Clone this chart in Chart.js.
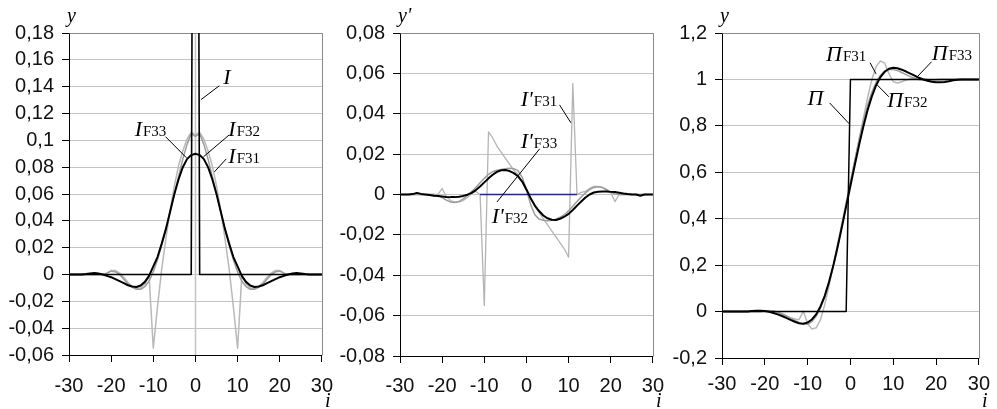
<!DOCTYPE html>
<html><head><meta charset="utf-8">
<script src="https://cdn.jsdelivr.net/npm/chart.js@4.4.1/dist/chart.umd.min.js"></script>
<style>
html,body{margin:0;padding:0;background:#fff;}
#wrap{position:relative;width:997px;height:409px;overflow:hidden;background:#fff;}
canvas{position:absolute;top:0;}
</style></head><body>
<div id="wrap">
<canvas id="c1" width="345" height="409" style="left:0px"></canvas>
<canvas id="c2" width="345" height="409" style="left:330px"></canvas>
<canvas id="c3" width="342" height="409" style="left:655px"></canvas>
</div>
<script>
// ---------- data ----------
const iValues = [-30,-29,-28,-27,-26,-25,-24,-23,-22,-21,-20,-19,-18,-17,-16,-15,-14,-13,-12,-11,-10,-9,-8,-7,-6,-5,-4,-3,-2,-1,0,1,2,3,4,5,6,7,8,9,10,11,12,13,14,15,16,17,18,19,20,21,22,23,24,25,26,27,28,29,30];

// panel 1: impulse and filtered impulses
const seriesI = [0,0,0,0,0,0,0,0,0,0,0,0,0,0,0,0,0,0,0,0,0,0,0,0,0,0,0,0,0,0,1,0,0,0,0,0,0,0,0,0,0,0,0,0,0,0,0,0,0,0,0,0,0,0,0,0,0,0,0,0,0];
const seriesIF33 = [0,0,0,0,0.0003,0.0008,0.0012,0.0008,0,-0.001,-0.002,-0.0035,-0.005,-0.0065,-0.008,-0.009,-0.0093,-0.0082,-0.0055,-0.001,0.006,0.013,0.023,0.034,0.047,0.060,0.071,0.080,0.086,0.089,0.090,0.089,0.086,0.080,0.071,0.060,0.047,0.034,0.023,0.013,0.006,-0.001,-0.0055,-0.0082,-0.0093,-0.009,-0.008,-0.0065,-0.005,-0.0035,-0.002,-0.001,0,0.0008,0.0012,0.0008,0.0003,0,0,0,0];
const seriesIF32 = [0,0,0,0,0,0,0,0,0,0.001,0.0025,0.002,0,-0.0035,-0.007,-0.0095,-0.011,-0.011,-0.009,-0.005,0.002,0.011,0.022,0.034,0.047,0.060,0.073,0.086,0.097,0.105,0.103,0.105,0.097,0.086,0.073,0.060,0.047,0.034,0.022,0.011,0.002,-0.005,-0.009,-0.011,-0.011,-0.0095,-0.007,-0.0035,0,0.002,0.0025,0.001,0,0,0,0,0,0,0,0,0];
const seriesIF31 = [0,0,0,0,0,0,0,0,0,0.001,0.003,0.003,0.001,-0.002,-0.006,-0.009,-0.0105,-0.010,-0.007,-0.001,-0.055,-0.024,0.004,0.027,0.048,0.066,0.081,0.092,0.101,0.106,0.104,0.106,0.101,0.092,0.081,0.066,0.048,0.027,0.004,-0.024,-0.055,-0.001,-0.007,-0.010,-0.0105,-0.009,-0.006,-0.002,0.001,0.003,0.003,0.001,0,0,0,0,0,0,0,0,0];

// panel 2: derivatives
const seriesDF33 = [0,0,0,0.0002,0.0008,0.0003,0,-0.0003,-0.0006,-0.0008,-0.001,-0.0012,-0.0013,-0.0013,-0.0011,-0.0007,-0.0001,0.0008,0.0022,0.004,0.006,0.008,0.0098,0.0112,0.012,0.0121,0.0116,0.0106,0.009,0.0064,0.0025,-0.0018,-0.0055,-0.0082,-0.0104,-0.0118,-0.0125,-0.0126,-0.012,-0.011,-0.0096,-0.0077,-0.0055,-0.0035,-0.0015,0,0.001,0.0014,0.0015,0.0015,0.0013,0.0012,0.0009,0.0005,0.0002,0,0,-0.0006,0,0,0];
const seriesDF32 = [0,0,0,0,0,0,0,0,0,-0.0005,-0.0015,-0.0028,-0.0037,-0.004,-0.0035,-0.0022,-0.0005,0.0015,0.0035,0.0058,0.008,0.010,0.0113,0.012,0.0124,0.0127,0.013,0.0128,0.0118,0.0085,0.0025,-0.005,-0.010,-0.0122,-0.0128,-0.013,-0.0127,-0.0122,-0.0113,-0.010,-0.008,-0.0058,-0.0035,-0.0012,0.0008,0.0025,0.0035,0.0038,0.0035,0.0025,0.0012,0.0003,0,0,0,0,0,0,0,0,0];
const seriesDF31 = [0,0,0,0,0,0,0,0,0,0,0.003,-0.001,-0.003,-0.0038,-0.0037,-0.003,-0.0015,0.0005,0.0015,0,-0.055,0.031,0.028,0.024,0.021,0.018,0.015,0.012,0.010,0.006,0.002,-0.002,-0.006,-0.009,-0.012,-0.015,-0.018,-0.021,-0.024,-0.027,-0.031,0.055,0,0.001,0.0015,0.003,0.004,0.004,0.0035,0.002,0.001,-0.0035,0,0,0,0,0,0,0,0,0];
const blueX = [-11, 12];
const blueY = [0, 0];

// panel 3: step and filtered steps
const seriesP = [0,0,0,0,0,0,0,0,0,0,0,0,0,0,0,0,0,0,0,0,0,0,0,0,0,0,0,0,0,0,1,1,1,1,1,1,1,1,1,1,1,1,1,1,1,1,1,1,1,1,1,1,1,1,1,1,1,1,1,1,1];
const seriesPF33 = [0,0,0,0,0,0,0,0.003,0.004,0.004,0.002,-0.001,-0.006,-0.012,-0.019,-0.027,-0.036,-0.044,-0.050,-0.052,-0.047,-0.034,-0.012,0.022,0.068,0.128,0.198,0.278,0.364,0.453,0.542,0.630,0.716,0.796,0.867,0.927,0.975,1.010,1.033,1.046,1.050,1.048,1.042,1.034,1.025,1.016,1.007,1.000,0.994,0.990,0.988,0.988,0.989,0.992,0.996,0.999,1,1,1,1,1];
const seriesPF32 = [0,0,0,0,0,0,0,0,0,0,0.002,0.003,0.002,-0.002,-0.009,-0.018,-0.028,-0.038,-0.048,-0.055,-0.055,-0.043,-0.020,0.015,0.062,0.122,0.195,0.278,0.368,0.462,0.555,0.648,0.737,0.818,0.888,0.945,0.988,1.018,1.036,1.043,1.043,1.038,1.030,1.021,1.012,1.005,1.000,0.997,0.996,0.997,0.999,1,1,1,1,1,1,1,1,1,1];
const seriesPF31 = [0,0,0,0,0,0,0,0,0,0,0.003,0.002,-0.002,-0.006,-0.012,-0.019,-0.026,-0.032,-0.035,0.002,-0.052,-0.075,-0.070,-0.035,0.030,0.110,0.200,0.290,0.380,0.470,0.560,0.650,0.740,0.830,0.920,1.000,1.055,1.080,1.070,1.025,0.990,0.985,0.990,0.997,1.002,1.005,1.005,1.003,1.000,0.999,0.999,1,1,1,1,1,1,1,1,1,1];

// tick settings
const xTicks = {min: -30, max: 30, step: 10};
const yTicks1 = {min: -0.06, max: 0.18, step: 0.02};
const yTicks2 = {min: -0.08, max: 0.08, step: 0.02};
const yTicks3 = {min: -0.2, max: 1.2, step: 0.2};

// ---------- helpers ----------
function pts(xs, ys){ return xs.map((x,k)=>({x:x, y:ys[k]})); }
function ds(data, color, width){
  return {data:data, borderColor:color, backgroundColor:color, borderWidth:width, pointRadius:0, tension:0, fill:false, borderJoinStyle:'round'};
}
function fmt(v){ const r = Math.round(v*100)/100; return String(r).replace('.', ','); }

const SERIF = '"Liberation Serif","Times New Roman",serif';
const SANS = '"Liberation Sans",Arial,sans-serif';

const deco = {
  id:'deco',
  beforeDatasetsDraw(chart, args, o){
    const ctx = chart.ctx, a = chart.chartArea;
    ctx.save();
    if (o.zeroLine){
      const x = Math.round(chart.scales.x.getPixelForValue(0)) + 0.5;
      ctx.strokeStyle = '#c4c4c4'; ctx.lineWidth = 1.5;
      ctx.beginPath(); ctx.moveTo(x, a.top); ctx.lineTo(x, a.bottom); ctx.stroke();
    }
    ctx.strokeStyle = '#8a8a8a'; ctx.lineWidth = 1;
    ctx.beginPath();
    ctx.moveTo(Math.round(a.left)+0.5, Math.round(a.top)+0.5);
    ctx.lineTo(Math.round(a.right)+0.5, Math.round(a.top)+0.5);
    ctx.lineTo(Math.round(a.right)+0.5, Math.round(a.bottom)+0.5);
    ctx.stroke();
    ctx.restore();
  },
  afterDraw(chart, args, o){
    const ctx = chart.ctx, a = chart.chartArea;
    const xs = chart.scales.x, ys = chart.scales.y;
    ctx.save();
    ctx.fillStyle = '#000'; ctx.textAlign = 'left'; ctx.textBaseline = 'alphabetic';
    // axis titles
    ctx.font = 'italic 20px ' + SERIF;
    ctx.fillText(o.yTitle, a.left - 2, 22);
    ctx.fillText('i', a.right + 3, 407);
    // series labels
    (o.labels || []).forEach(l => {
      if (l.line){
        ctx.strokeStyle = '#000'; ctx.lineWidth = 1;
        ctx.beginPath();
        ctx.moveTo(xs.getPixelForValue(l.line[0]), ys.getPixelForValue(l.line[1]));
        ctx.lineTo(xs.getPixelForValue(l.line[2]), ys.getPixelForValue(l.line[3]));
        ctx.stroke();
      }
      const px = xs.getPixelForValue(l.x), py = ys.getPixelForValue(l.y);
      ctx.font = 'italic 22px ' + SERIF;
      ctx.fillText(l.main, px, py);
      const w = ctx.measureText(l.main).width;
      if (l.sub){
        ctx.font = '15px ' + SERIF;
        ctx.fillText(l.sub, px + w + 1, py);
      }
    });
    ctx.restore();
  }
};

function makeChart(id, datasets, yT, geom, decoOpts){
  return new Chart(document.getElementById(id), {
    type:'line',
    data:{datasets:datasets},
    plugins:[deco],
    options:{
      responsive:false, animation:false, devicePixelRatio:1,
      layout:{padding:{left:0, right:geom.right, top:33, bottom:0}},
      plugins:{legend:{display:false}, tooltip:{enabled:false}, deco:decoOpts},
      scales:{
        x:{type:'linear', min:xTicks.min, max:xTicks.max,
           ticks:{stepSize:xTicks.step, color:'#111', font:{family:SANS, size:20}, padding:geom.xpad, maxRotation:0, autoSkip:false, callback:v=>String(v)},
           grid:{drawOnChartArea:false, drawTicks:true, tickLength:7, tickColor:'#000'},
           border:{color:'#000', width:1},
           afterFit:s=>{ s.height = geom.xh; }},
        y:{type:'linear', min:yT.min, max:yT.max,
           ticks:{stepSize:yT.step, color:'#111', font:{family:SANS, size:20}, padding:8, autoSkip:false, callback:v=>fmt(v)},
           grid:{color:'#c4c4c4', lineWidth:1, tickColor:'#000', tickLength:7},
           border:{color:'#000', width:1},
           afterFit:s=>{ s.width = geom.yw; }}
      }
    }
  });
}

// ---------- panel 1 ----------
makeChart('c1', [
  ds(pts(iValues, seriesI), '#000', 1.6),
  ds(pts(iValues, seriesIF33), '#000', 2),
  ds(pts(iValues, seriesIF32), '#9c9c9c', 1.5),
  ds(pts(iValues, seriesIF31), '#b9b9b9', 1.5)
], yTicks1, {right:22, xh:54, yw:69, xpad:12}, {
  zeroLine:true, yTitle:'y',
  labels:[
    {main:'I', sub:'', x:6.61, y:0.1421, line:[5.67,0.1407,1.30,0.1303]},
    {main:'I', sub:'F33', x:-14.41, y:0.1034, line:[-7.09,0.1027,-2.13,0.0870]},
    {main:'I', sub:'F32', x:7.80, y:0.1034, line:[8.03,0.1041,1.89,0.0877]},
    {main:'I', sub:'F31', x:7.80, y:0.0833, line:[7.32,0.0862,4.49,0.0765]}
  ]
});

// ---------- panel 2 ----------
makeChart('c2', [
  ds(pts(iValues, seriesDF33), '#000', 2),
  ds(pts(blueX, blueY), '#2020a8', 1.5),
  ds(pts(iValues, seriesDF32), '#9c9c9c', 1.5),
  ds(pts(iValues, seriesDF31), '#b4b4b4', 1.3)
], yTicks2, {right:20, xh:53, yw:70, xpad:11}, {
  zeroLine:false, yTitle:"y'",
  labels:[
    {main:"I'", sub:'F31', x:-1.34, y:0.0439, line:[7.85,0.0444,10.55,0.0355]},
    {main:"I'", sub:'F33', x:-1.34, y:0.0231, line:[3.13,0.0226,-6.99,-0.0037]},
    {main:"I'", sub:'F32', x:-8.24, y:-0.0142, line:null}
  ]
});

// ---------- panel 3 ----------
makeChart('c3', [
  ds(pts(iValues, seriesP), '#000', 1.5),
  ds(pts(iValues, seriesPF33), '#000', 2),
  ds(pts(iValues, seriesPF32), '#9c9c9c', 1.5),
  ds(pts(iValues, seriesPF31), '#b9b9b9', 1.5)
], yTicks3, {right:16, xh:51, yw:67, xpad:7}, {
  zeroLine:false, yTitle:'y',
  labels:[
    {main:'Π', sub:'F31', x:-5.68, y:1.080, line:[4.59,1.072,5.98,1.024]},
    {main:'Π', sub:'F33', x:19.02, y:1.085, line:[18.94,1.076,15.58,1.011]},
    {main:'Π', sub:'F32', x:8.59, y:0.883, line:[8.99,0.925,6.21,0.977]},
    {main:'Π', sub:'', x:-10.04, y:0.890, line:[-4.87,0.899,-0.28,0.809]}
  ]
});
</script>
</body></html>
